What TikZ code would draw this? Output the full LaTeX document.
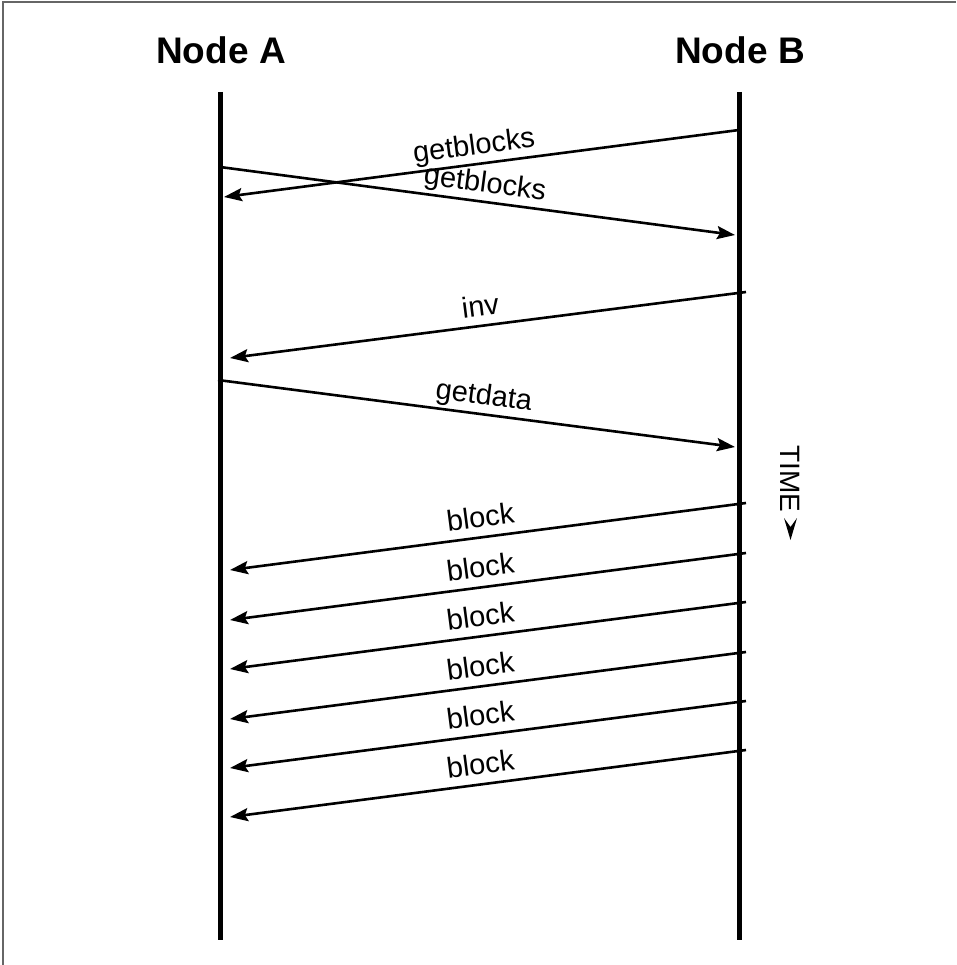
\documentclass[tikz,border=0pt]{standalone}
\usepackage{fontspec}
\setmainfont{Liberation Sans}
\usetikzlibrary{arrows.meta}
\begin{document}
\begin{tikzpicture}[x=1pt,y=-1pt,
  lifeline/.style={line width=5pt},
  msg/.style={line width=2.6pt,-{Stealth[length=18pt,width=13pt,inset=3pt]}},
  lab/.style={pos=0.51,sloped,anchor=south,text depth=0pt,inner xsep=0pt,inner ysep=8.5pt,font=\fontsize{29}{29}\selectfont},
  title/.style={font=\fontsize{37}{37}\selectfont\bfseries},
  frame/.style={draw=black!60,line width=1.5pt}]
\useasboundingbox (0,0) rectangle (956,965);
\draw[frame] (3,965) -- (3,2) -- (956,2);
% titles
\node[title] (ta) at (221,50) {Node A};
\node[title] (tb) at (740,50) {Node B};
% lifelines
\coordinate (atop) at (220,92);
\coordinate (abot) at (220,940);
\coordinate (btop) at (739,92);
\coordinate (bbot) at (739,940);
\draw[lifeline] (atop) -- (abot);
\draw[lifeline] (btop) -- (bbot);
% message endpoints
\coordinate (b1) at (739,130);  \coordinate (a1) at (224,197);
\coordinate (a2) at (220,167);  \coordinate (b2) at (735,235);
\coordinate (b3) at (746,292);  \coordinate (a3) at (230,358);
\coordinate (a4) at (218,380);  \coordinate (b4) at (735,447);
\foreach \i/\y in {5/503,6/553,7/602,8/652,9/701,10/750}{
  \coordinate (b\i) at (746,\y);
  \coordinate (a\i) at (230,\y+67);
}
\draw[msg] (b1) -- node[lab] {getblocks} (a1);
\draw[msg] (a2) -- node[lab] {getblocks} (b2);
\draw[msg] (b3) -- node[lab] {inv} (a3);
\draw[msg] (a4) -- node[lab] {getdata} (b4);
\foreach \i in {5,...,10}{
  \draw[msg] (b\i) -- node[lab] {block} (a\i);
}
% time label
\node[rotate=-90,inner sep=0pt,font=\fontsize{28}{28}\selectfont] (time) at (790,479) {TIME};
\fill (784,518) -- (790.5,527) -- (797,518) -- (790.5,540) -- cycle;
\end{tikzpicture}
\end{document}
